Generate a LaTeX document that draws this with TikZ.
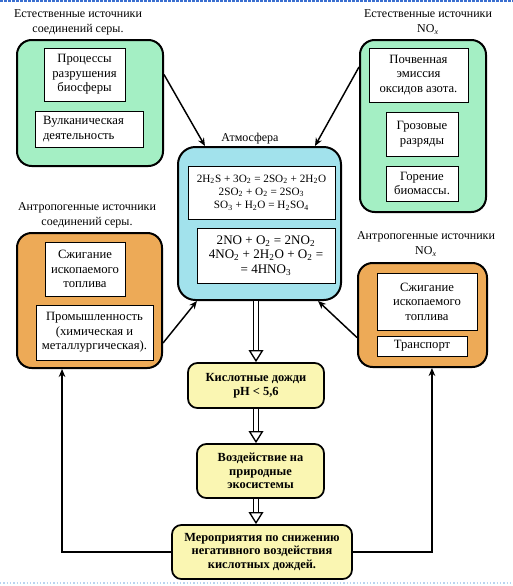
\documentclass[tikz,border=0pt]{standalone}
\usepackage{fontspec}
\setmainfont{Liberation Serif}
\usetikzlibrary{arrows.meta}
\definecolor{gfill}{HTML}{A4EFC4}
\definecolor{cfill}{HTML}{A2E2EC}
\definecolor{ofill}{HTML}{EDAA57}
\definecolor{yfill}{HTML}{FAF6B2}
\definecolor{topline}{HTML}{3A6FD0}
\definecolor{botline}{HTML}{B8D4F0}
\tikzset{
  bx/.style n args={4}{minimum width={(#3-#1)*0.75pt}, minimum height={(#4-#2)*0.75pt},
    at={({(#1+#3)/2},{(#2+#4)/2})}},
  outer/.style={draw, line width=1.5pt, rounded corners=11pt, inner sep=0pt},
  wbox/.style={draw, fill=white, line width=0.7pt, inner sep=0pt, align=center,
    font=\fontsize{9.5}{10.8}\selectfont},
  ttl/.style={align=center, inner sep=0pt, font=\fontsize{9}{11.25}\selectfont},
  ybox/.style={draw, fill=yfill, line width=1.3pt, rounded corners=7pt, inner sep=0pt,
    align=center, font=\bfseries\fontsize{9.3}{10.2}\selectfont},
  arr/.style={line width=1.1pt, -{Stealth[length=6pt,width=5pt]}},
  dbl/.style={double, double distance=2.4pt, line width=1.1pt,
    -{Triangle[open,length=9pt,width=11pt,line width=1pt]}},
}
\begin{document}
\begin{tikzpicture}[x=0.75pt,y=-0.75pt]
\useasboundingbox (0,0) rectangle (513,586);
\draw[topline, line width=1.2pt, dash pattern=on 2pt off 1pt] (0,1) -- (513,1);
\draw[botline, line width=0.8pt, dash pattern=on 1pt off 1.5pt] (0,583) -- (513,583);

% titles
\node[ttl] (t1) at (78,22) {Естественные источники\\соединений серы.};
\node[ttl] (t2) at (428,22) {Естественные источники\\NO\textsubscript{\textit{x}}};
\node[ttl] (t3) at (250,139) {Атмосфера};
\node[ttl] (t4) at (87,215) {Антропогенные источники\\соединений серы.};
\node[ttl] (t5) at (426,244) {Антропогенные источники\\NO\textsubscript{\textit{x}}};

% green sulfur
\node[outer, fill=gfill, bx={17}{40}{163}{166}] (gs) {};
\node[wbox, bx={44}{48}{125}{101}] (gs1) {Процессы\\разрушения\\биосферы};
\node[wbox, bx={35}{111}{143}{147}, text width=69pt, align=left] (gs2) {Вулканическая\\деятельность};

% green NOx
\node[outer, fill=gfill, bx={360}{40}{486}{212}] (gn) {};
\node[wbox, bx={369}{48}{468}{102}] (gn1) {Почвенная\\эмиссия\\оксидов азота.};
\node[wbox, bx={386}{112}{458}{156}] (gn2) {Грозовые\\разряды};
\node[wbox, bx={386}{166}{458}{201}] (gn3) {Горение\\биомассы.};

% atmosphere
\node[outer, fill=cfill, rounded corners=13pt, bx={178}{147}{341}{300}] (atm) {};
\node[wbox, bx={188}{166}{335}{219}, font=\fontsize{8.4}{10}\selectfont] (atm1)
  {2H\textsubscript{2}S + 3O\textsubscript{2} = 2SO\textsubscript{2} + 2H\textsubscript{2}O\\
   2SO\textsubscript{2} + O\textsubscript{2} = 2SO\textsubscript{3}\\
   SO\textsubscript{3} + H\textsubscript{2}O = H\textsubscript{2}SO\textsubscript{4}};
\node[wbox, bx={197}{228}{335}{283}, font=\fontsize{9.8}{11}\selectfont] (atm2)
  {2NO + O\textsubscript{2} = 2NO\textsubscript{2}\\
   4NO\textsubscript{2} + 2H\textsubscript{2}O + O\textsubscript{2} =\\
   = 4HNO\textsubscript{3}};

% orange sulfur
\node[outer, fill=ofill, bx={17}{233}{162}{368}] (os) {};
\node[wbox, bx={45}{242}{125}{296}] (os1) {Сжигание\\ископаемого\\топлива};
\node[wbox, bx={36}{305}{153}{360}] (os2) {Промышленность\\(химическая и\\металлургическая).};

% orange NOx
\node[outer, fill=ofill, bx={358}{263}{487}{367}] (on) {};
\node[wbox, bx={377}{273}{477}{330}] (on1) {Сжигание\\ископаемого\\топлива};
\node[wbox, bx={377}{336}{467}{356}] (on2) {Транспорт};

% yellow chain
\node[ybox, bx={188}{363}{324}{408}] (acid) {Кислотные дожди\\pH < 5,6};
\node[ybox, bx={197}{444}{324}{498}] (eco) {Воздействие на\\природные\\экосистемы};
\node[ybox, bx={172}{525}{352}{579}] (mer) {Мероприятия по снижению\\негативного воздействия\\кислотных дождей.};

% connectors
\draw[arr] (gs.east |- gs1.center) -- ([xshift=-40.9pt]atm.north);
\draw[arr] ([yshift=44.25pt]gn.west) -- ([xshift=41.6pt]atm.north);
\draw[arr] ([yshift=-31.9pt]os.east) -- ([xshift=-46.9pt]atm.south);
\draw[arr] ([yshift=-16.9pt]on.west) -- ([xshift=43.9pt]atm.south);

\draw[dbl] (atm.south -| acid.north) -- (acid.north);
\draw[dbl] (acid.south) -- (acid.south |- eco.north);
\draw[dbl] (eco.south -| acid.south) -- (mer.north -| acid.south);

\draw[arr] (mer.west) -| ([xshift=-20.6pt]os.south);
\draw[arr] (mer.east) -| ([xshift=7.1pt]on.south);
\end{tikzpicture}
\end{document}
